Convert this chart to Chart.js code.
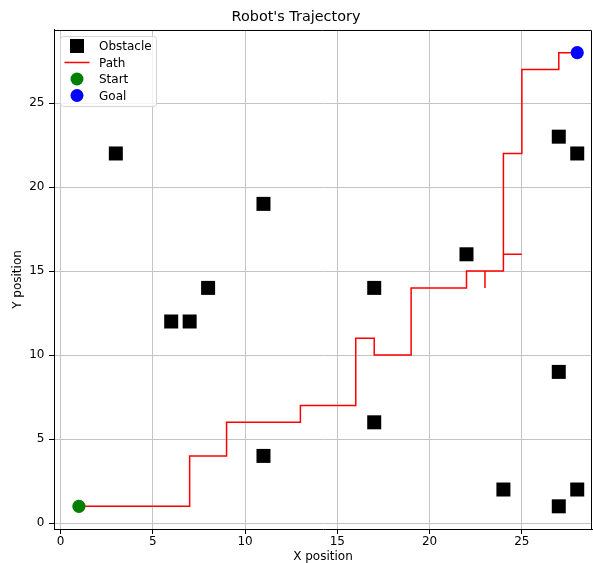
<!DOCTYPE html>
<html>
<head>
<meta charset="utf-8">
<script src="https://cdn.jsdelivr.net/npm/chart.js@4.4.0/dist/chart.umd.min.js"></script>
<style>body{margin:0;background:#fff}</style>
</head>
<body>
<canvas id="c" width="593" height="563"></canvas>
<script>
const obstacleX = [3, 11, 6, 7, 8, 17, 22, 27, 28, 27, 17, 11, 24, 27, 28];
const obstacleY = [22, 19, 12, 12, 14, 14, 16, 23, 22, 9, 6, 4, 2, 1, 2];
const pathX = [1, 7, 7, 9, 9, 13, 13, 16, 16, 17, 17, 19, 19, 22, 22, 23, 23, 23, 24, 24, 25, 24, 24, 25, 25, 27, 27, 28];
const pathY = [1, 1, 4, 4, 6, 6, 7, 7, 11, 11, 10, 10, 14, 14, 15, 15, 14, 15, 15, 16, 16, 16, 22, 22, 27, 27, 28, 28];
const startPoint = [1, 1];
const goalPoint = [28, 28];
const tickValues = [0, 5, 10, 15, 20, 25];

const font = 'DejaVu Sans';
const toPts = (xs, ys) => xs.map((x, i) => ({x: x, y: ys[i]}));

const legendItems = [
  {label: 'Obstacle', kind: 'rect', color: '#000000'},
  {label: 'Path', kind: 'line', color: '#ff0000'},
  {label: 'Start', kind: 'circle', color: '#008000'},
  {label: 'Goal', kind: 'circle', color: '#0000ff'}
];

// top/right spines + legend box like matplotlib
const framePlugin = {
  id: 'frame',
  afterDraw(chart) {
    const {ctx, chartArea: a} = chart;
    ctx.save();
    ctx.strokeStyle = '#000';
    ctx.lineWidth = 1;
    ctx.beginPath();
    ctx.moveTo(a.left, a.top + 0.5);
    ctx.lineTo(a.right - 0.5, a.top + 0.5);
    ctx.lineTo(a.right - 0.5, a.bottom);
    ctx.stroke();

    const bx = a.left + 6.5, by = a.top + 6.5, bw = 96, bh = 70;
    ctx.beginPath();
    ctx.roundRect(bx, by, bw, bh, 3);
    ctx.fillStyle = 'rgba(255,255,255,0.8)';
    ctx.fill();
    ctx.strokeStyle = '#d4d4d4';
    ctx.stroke();
    ctx.font = '12px ' + font;
    ctx.textBaseline = 'middle';
    legendItems.forEach((it, i) => {
      const cy = by + 9.5 + i * 16.5;
      const mx = bx + 16.5;
      ctx.fillStyle = it.color;
      ctx.strokeStyle = it.color;
      if (it.kind === 'rect') {
        ctx.fillRect(mx - 7, cy - 7, 14, 14);
      } else if (it.kind === 'line') {
        ctx.lineWidth = 1.5;
        ctx.beginPath();
        ctx.moveTo(mx - 12.5, cy);
        ctx.lineTo(mx + 12.5, cy);
        ctx.stroke();
      } else {
        ctx.beginPath();
        ctx.arc(mx, cy, 6.5, 0, Math.PI * 2);
        ctx.fill();
      }
      ctx.fillStyle = '#000';
      ctx.fillText(it.label, bx + 38.5, cy + 1);
    });
    ctx.restore();
  }
};

const tickFix = scale => { scale.ticks = tickValues.map(v => ({value: v})); };

new Chart(document.getElementById('c'), {
  type: 'scatter',
  data: {
    datasets: [
      {
        label: 'Obstacle',
        data: toPts(obstacleX, obstacleY),
        pointStyle: 'rect',
        pointRadius: 9.9,
        backgroundColor: '#000',
        borderColor: '#000',
        borderWidth: 0,
        order: 3
      },
      {
        label: 'Path',
        data: toPts(pathX, pathY),
        showLine: true,
        borderColor: '#ff0000',
        borderWidth: 1.5,
        pointRadius: 0,
        tension: 0,
        order: 2
      },
      {
        label: 'Start',
        data: [{x: startPoint[0], y: startPoint[1]}],
        pointRadius: 6.6,
        backgroundColor: '#008000',
        borderWidth: 0,
        order: 1
      },
      {
        label: 'Goal',
        data: [{x: goalPoint[0], y: goalPoint[1]}],
        pointRadius: 6.6,
        backgroundColor: '#0000ff',
        borderWidth: 0,
        order: 1
      }
    ]
  },
  options: {
    responsive: false,
    animation: false,
    layout: {autoPadding: false, padding: {left: 0, right: 1, top: 0, bottom: 0}},
    plugins: {
      legend: {display: false},
      tooltip: {enabled: false},
      title: {
        display: true,
        text: "Robot's Trajectory",
        color: '#000',
        font: {family: font, size: 14.4, weight: 'normal'},
        padding: {top: 9, bottom: 3.7}
      }
    },
    scales: {
      x: {
        type: 'linear',
        min: -0.35,
        max: 28.8,
        afterBuildTicks: tickFix,
        afterFit: s => { s.height = 34; s.paddingLeft = 0; s.paddingRight = 0; },
        ticks: {color: '#000', font: {family: font, size: 12}, padding: 1, maxRotation: 0},
        grid: {color: '#c4c4c4', lineWidth: 1, tickLength: 5, tickColor: '#000'},
        border: {color: '#000'},
        title: {display: true, text: 'X position', color: '#000', font: {family: font, size: 12}, padding: {top: 0, bottom: -1.5}}
      },
      y: {
        type: 'linear',
        min: -0.35,
        max: 29.35,
        afterBuildTicks: tickFix,
        afterFit: s => { s.width = 54; s.paddingTop = 0; s.paddingBottom = 0; },
        ticks: {color: '#000', font: {family: font, size: 12}, padding: 4.5},
        grid: {color: '#c4c4c4', lineWidth: 1, tickLength: 5, tickColor: '#000'},
        border: {color: '#000'},
        title: {display: true, text: 'Y position', color: '#000', font: {family: font, size: 12}, padding: {top: 11, bottom: 0}}
      }
    }
  },
  plugins: [framePlugin]
});
</script>
</body>
</html>
